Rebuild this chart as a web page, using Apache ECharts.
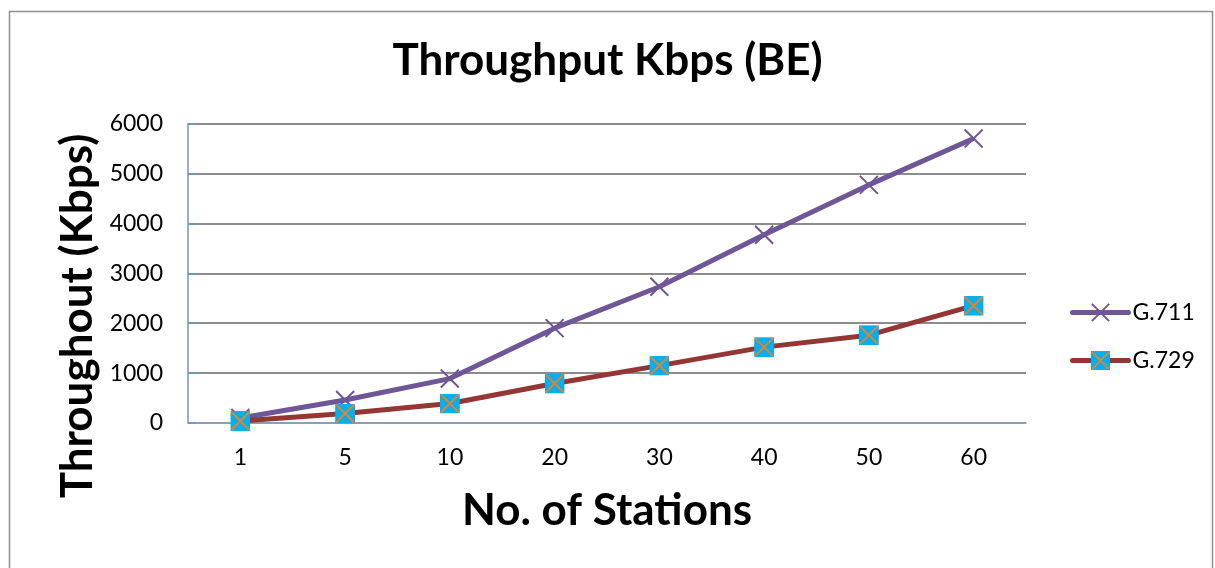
<!DOCTYPE html>
<html>
<head>
<meta charset="utf-8">
<script src="https://cdn.jsdelivr.net/npm/echarts@6/dist/echarts.min.js"></script>
<style>
html,body{margin:0;padding:0;background:#fff;}
#chart{width:1215px;height:568px;}
</style>
</head>
<body>
<div id="chart"></div>
<script>
const categories = ['1', '5', '10', '20', '30', '40', '50', '60'];
const g711 = [100, 460, 890, 1900, 2730, 3770, 4770, 5700];
const g729 = [40, 190, 390, 790, 1150, 1520, 1760, 2350];
const seriesNames = ['G.711', 'G.729'];
const yTicks = { min: 0, max: 6000, interval: 1000 };

const FONT = 'Lato, Carlito, "Open Sans", sans-serif';
const purple = '#6E5697';
const red = '#943634';

const crossSvg = 'data:image/svg+xml;utf8,' + encodeURIComponent(
  '<svg xmlns="http://www.w3.org/2000/svg" width="20" height="20" viewBox="0 0 20 20">' +
  '<path d="M1,1L19,19M19,1L1,19" stroke="' + purple + '" stroke-width="2" fill="none"/></svg>');
const sqSvg = 'data:image/svg+xml;utf8,' + encodeURIComponent(
  '<svg xmlns="http://www.w3.org/2000/svg" width="20" height="20" viewBox="0 0 20 20">' +
  '<rect x="0" y="0" width="20" height="20" fill="#00B0F0"/>' +
  '<path d="M1,1L19,19M19,1L1,19" stroke="#E3822F" stroke-width="2" fill="none"/></svg>');

const chart = echarts.init(document.getElementById('chart'), null, { renderer: 'canvas' });
chart.setOption({
  animation: false,
  backgroundColor: '#fff',
  title: {
    text: 'Throughput Kbps (BE)',
    left: 'center',
    top: 34,
    textStyle: { fontFamily: FONT, fontWeight: 'bold', fontSize: 44, color: '#000' }
  },
  grid: { left: 188, right: 189, top: 123.5, bottom: 145 },
  legend: {
    orient: 'vertical',
    left: 1065,
    top: 296,
    itemWidth: 56,
    itemHeight: 24,
    itemGap: 25,
    data: seriesNames,
    lineStyle: { width: 5, cap: 'round' },
    textStyle: { fontFamily: FONT, fontSize: 23, color: '#000', padding: [0, 0, 0, -1] }
  },
  xAxis: {
    type: 'category',
    data: categories,
    boundaryGap: true,
    name: 'No. of Stations',
    nameLocation: 'middle',
    nameGap: 66,
    nameTextStyle: { fontFamily: FONT, fontWeight: 'bold', fontSize: 44, color: '#000' },
    axisLine: { lineStyle: { color: '#8EA4C8', width: 1.5 } },
    axisTick: { show: false },
    axisLabel: { fontFamily: FONT, fontSize: 23, color: '#000', margin: 23 },
    splitLine: { show: false }
  },
  yAxis: {
    type: 'value',
    min: yTicks.min,
    max: yTicks.max,
    interval: yTicks.interval,
    axisLine: { show: true, lineStyle: { color: '#6F95C9', width: 1.5 } },
    axisTick: { show: true, inside: true, length: 8, lineStyle: { color: '#6F95C9', width: 1.5 } },
    axisLabel: { fontFamily: FONT, fontSize: 23, color: '#000', margin: 25, formatter: function (v) { return String(v); } },
    splitLine: { show: true, lineStyle: { color: '#8C8C8C', width: 2 } }
  },
  graphic: [
    {
      type: 'rect', silent: true, z: -1,
      shape: { x: 9.5, y: 11.5, width: 1203, height: 620 },
      style: { fill: 'none', stroke: '#8F8F8F', lineWidth: 1.5 }
    },
    {
      type: 'text', silent: true,
      x: 78, y: 316, rotation: Math.PI / 2,
      style: {
        text: 'Throughout (Kbps)', fontFamily: FONT, fontWeight: 'bold', fontSize: 44,
        fill: '#000', align: 'center', verticalAlign: 'middle'
      }
    }
  ],
  series: [
    {
      name: seriesNames[0],
      type: 'line',
      data: g711,
      symbol: 'image://' + crossSvg,
      symbolSize: 20,
      lineStyle: { color: purple, width: 5 },
      itemStyle: { color: purple },
      z: 3
    },
    {
      name: seriesNames[1],
      type: 'line',
      data: g729,
      symbol: 'image://' + sqSvg,
      symbolSize: 20,
      lineStyle: { color: red, width: 5 },
      itemStyle: { color: red },
      z: 4
    }
  ]
});
</script>
</body>
</html>
